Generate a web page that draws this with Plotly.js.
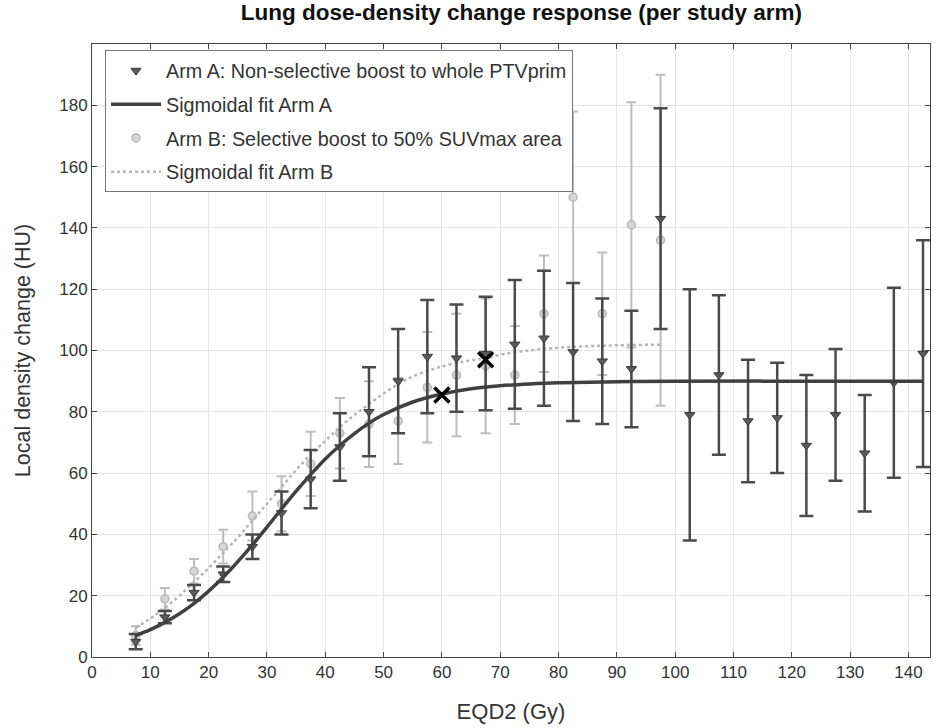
<!DOCTYPE html>
<html>
<head>
<meta charset="utf-8">
<script src="https://cdn.plot.ly/plotly-3.0.1.min.js"></script>
<style>html,body{margin:0;padding:0;background:#fff;}#chart{width:936px;height:728px;}</style>
</head>
<body>
<div id="chart"></div>
<script>
// Arm A (non-selective boost) binned means and symmetric errors
const doseA = [7.5,12.5,17.5,22.5,27.5,32.5,37.5,42.5,47.5,52.5,57.5,62.5,67.5,72.5,77.5,82.5,87.5,92.5,97.5,102.5,107.5,112.5,117.5,122.5,127.5,132.5,137.5,142.5];
const meanA = [5,13,21,27,36,47,58,68.5,80,90,98,97.5,99,102,104,99.5,96.5,94,143,79,92,77,78,69,79,66.5,89.5,99];
const errA  = [2.5,2,2.5,2.5,4,7,9.5,11,14.5,17,18.5,17.5,18.5,21,22,22.5,20.5,19,36,41,26,20,18,23,21.5,19,31,37];

// Arm B (selective boost) binned means and symmetric errors
const doseB = [7.5,12.5,17.5,22.5,27.5,32.5,37.5,42.5,47.5,52.5,57.5,62.5,67.5,72.5,77.5,82.5,87.5,92.5,97.5];
const meanB = [7,19,28,36,46,50,63,73,76,77,88,92,95,92,112,150,112,141,136];
const errB  = [3,3.5,4,5.5,8,9,10.5,11.5,14,14,18,20,22,16,19,28,20,40,54];

// Sigmoidal fit curves
const fitDoseA = [7.5,10,12.5,15,17.5,20,22.5,25,27.5,30,32.5,35,37.5,40,42.5,45,47.5,50,55,60,65,70,75,80,90,100,120,142.5];
const fitA     = [7,8.9,11.3,14.1,17.5,21.5,26,31.1,36.6,42.4,48.3,54.1,59.5,64.6,69,72.9,76.3,79.1,83.2,85.8,87.5,88.5,89.1,89.5,89.8,90,90,90];
const fitDoseB = [7.5,10,12.5,15,17.5,20,22.5,25,27.5,30,32.5,35,37.5,40,42.5,45,47.5,50,52.5,55,60,65,67.5,70,75,80,85,90,97.5];
const fitB     = [9.5,12.5,16,20,24.5,29,34,39,44.5,50,55.5,61,66,70.5,75,79,82.5,86,89,91.5,94.8,96.8,97.4,98.6,100,100.9,101.4,101.7,101.9];

// 95%-response markers
const markDose = [60,67.5];
const markResp = [85.5,97];

const names = ['Arm A: Non-selective boost to whole PTVprim','Sigmoidal fit Arm A','Arm B: Selective boost to 50% SUVmax area','Sigmoidal fit Arm B'];

const darkC = '#4a4a4a';
const lightC = '#bdbdbd';
const FONT = 'Liberation Sans, Arial, Helvetica, sans-serif';

const traces = [
  {x: doseB, y: meanB, type:'scatter', mode:'markers', name: names[2], legendrank: 3, legendgroup:'g3',
   marker:{symbol:'circle', size:8, color:'#d6d6d6', line:{color:'#b8b8b8', width:1.5}},
   error_y:{type:'data', array: errB, visible:true, color: lightC, thickness:2, width:5}},
  {x: fitDoseB, y: fitB, type:'scatter', mode:'lines', name: names[3], legendrank: 4, legendgroup:'g4',
   line:{color:'#b5b5b5', width:2.5, dash:'dot', shape:'spline'}},
  {x: doseA, y: meanA, type:'scatter', mode:'markers', name: names[0], legendrank: 1, legendgroup:'g1',
   marker:{symbol:'triangle-down', size:9, color:'#5a5a5a', line:{color:'#3a3a3a', width:1}},
   error_y:{type:'data', array: errA, visible:true, color: darkC, thickness:2.5, width:7}},
  {x: fitDoseA, y: fitA, type:'scatter', mode:'lines', name: names[1], legendrank: 2, legendgroup:'g2',
   line:{color:'#404040', width:3.5, shape:'spline'}},
  {x: markDose, y: markResp, type:'scatter', mode:'markers', showlegend:false,
   marker:{symbol:'x-thin-open', size:15, color:'#000', line:{color:'#000', width:3.5}}}
];

const axisCommon = {
  showline:true, mirror:'ticks', linecolor:'#444', linewidth:1,
  ticks:'inside', ticklen:5, tickcolor:'#444',
  showgrid:true, gridcolor:'#e4e4e4', gridwidth:1, zeroline:false,
  tickfont:{family:FONT, size:17, color:'#333'}
};

const layout = {
  width:936, height:728,
  margin:{l:92, r:6, t:44, b:71},
  paper_bgcolor:'#fff', plot_bgcolor:'#fff',
  title:{text:'<b>Lung dose-density change response (per study arm)</b>', x:0.557, xanchor:'center', y:0.983, yanchor:'middle',
         font:{family:FONT, size:22.5, color:'#111'}},
  xaxis: Object.assign({}, axisCommon, {range:[0,143.7], tickvals:[0,10,20,30,40,50,60,70,80,90,100,110,120,130,140],
    title:{text:'EQD2 (Gy)', standoff:22, font:{family:FONT, size:22, color:'#333'}}}),
  yaxis: Object.assign({}, axisCommon, {range:[0,200], tickvals:[0,20,40,60,80,100,120,140,160,180],
    title:{text:'Local density change (HU)', standoff:22, font:{family:FONT, size:21.5, color:'#333'}}}),
  showlegend:true,
  legend:{x:0.0155, y:0.99, xanchor:'left', yanchor:'top', bgcolor:'#fff', bordercolor:'#777', borderwidth:1,
    font:{family:FONT, size:19.8, color:'#333'}, tracegroupgap:5, traceorder:'grouped', itemwidth:50}
};

Plotly.newPlot('chart', traces, layout, {displayModeBar:false, staticPlot:true});
</script>
</body>
</html>
